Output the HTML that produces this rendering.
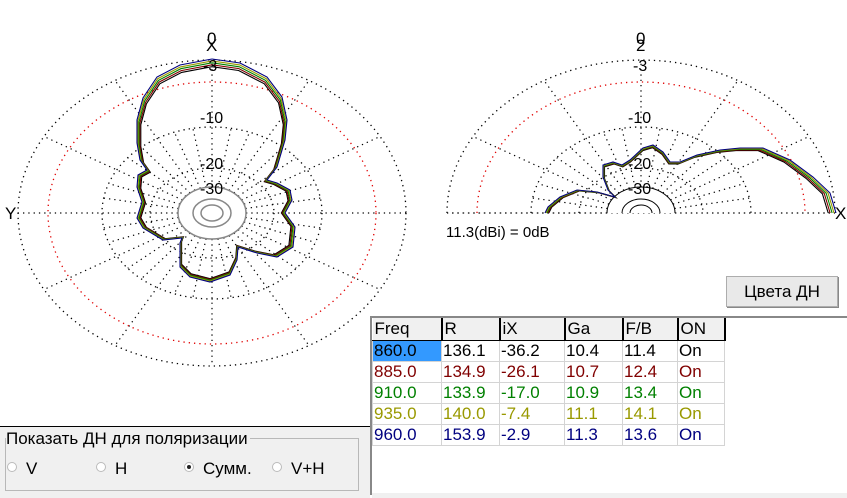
<!DOCTYPE html>
<html><head><meta charset="utf-8"><style>
html,body{margin:0;padding:0;width:847px;height:498px;overflow:hidden;background:#fff;font-family:"Liberation Sans",sans-serif}
#wrap{position:relative;width:847px;height:498px}
svg{position:absolute;left:0;top:0}
.t{position:absolute;font-size:16px;white-space:nowrap;line-height:1}
table{border-collapse:collapse;font-size:17px}
td{border:1px solid #d4d4d4;padding:0 0 0 1px;height:20px;line-height:20px;overflow:hidden}
th{font-weight:normal;text-align:left;height:20px;padding:0 0 0 2px;background:#f0f0f0;border-right:2px solid #000;border-bottom:1px solid #000;line-height:22px}
.r{display:inline-block;width:8px;height:8px;border:1px solid #bbb;border-radius:50%;background:#fff;margin-right:9px;vertical-align:2px;position:relative}
.r.on:after{content:"";position:absolute;left:2px;top:2px;width:4px;height:4px;border-radius:50%;background:#222}
</style></head><body><div id="wrap">
<svg id="s" width="847" height="498" xmlns="http://www.w3.org/2000/svg"></svg>

<div class="t" style="left:207px;top:30px;font-size:17px">0</div>
<div class="t" style="left:206px;top:37px;font-size:17px">X</div>
<div class="t" style="left:203px;top:59px">-3</div>
<div class="t" style="left:200px;top:111px">-10</div>
<div class="t" style="left:200px;top:157px">-20</div>
<div class="t" style="left:200px;top:182px">-30</div>
<div class="t" style="left:5px;top:205px;font-size:17px">Y</div>

<div class="t" style="left:636px;top:30px;font-size:17px">0</div>
<div class="t" style="left:636px;top:37px;font-size:17px">2</div>
<div class="t" style="left:633px;top:59px">-3</div>
<div class="t" style="left:628px;top:111px">-10</div>
<div class="t" style="left:628px;top:157px">-20</div>
<div class="t" style="left:628px;top:182px">-30</div>
<div class="t" style="left:835px;top:205px;font-size:17px">X</div>
<div class="t" style="left:446px;top:225px;font-size:15px">11.3(dBi) = 0dB</div>

<div style="position:absolute;left:726px;top:276px;width:110px;height:29px;background:#e9e9e9;border:1px solid #adadad;box-shadow:1px 1px 0 #888;font-size:17px;text-align:center;line-height:29px">Цвета ДН</div>

<div style="position:absolute;left:370px;top:316px;width:477px;height:177px;border-top:2px solid #888;border-left:2px solid #888;background:#fff">
<table>
<tr><th style="width:66px">Freq</th><th style="width:54px">R</th><th style="width:61px">iX</th><th style="width:54px">Ga</th><th style="width:51px">F/B</th><th style="width:43px">ON</th></tr>
<tr style="color:#000"><td style="background:#3399ff">860.0</td><td>136.1</td><td>-36.2</td><td>10.4</td><td>11.4</td><td>On</td></tr>
<tr style="color:#800000"><td>885.0</td><td>134.9</td><td>-26.1</td><td>10.7</td><td>12.4</td><td>On</td></tr>
<tr style="color:#008000"><td>910.0</td><td>133.9</td><td>-17.0</td><td>10.9</td><td>13.4</td><td>On</td></tr>
<tr style="color:#999900"><td>935.0</td><td>140.0</td><td>-7.4</td><td>11.1</td><td>14.1</td><td>On</td></tr>
<tr style="color:#000080"><td>960.0</td><td>153.9</td><td>-2.9</td><td>11.3</td><td>13.6</td><td>On</td></tr>
</table></div>
<div style="position:absolute;left:372px;top:493px;width:475px;height:5px;background:#f0f0f0"></div>

<div style="position:absolute;left:0;top:426px;width:370px;height:1px;background:#000"></div>
<div style="position:absolute;left:0;top:427px;width:370px;height:71px;background:#f0f0f0"></div>
<div style="position:absolute;left:5px;top:438px;width:352px;height:51px;border:1px solid #b8b8b8"></div>
<div class="t" style="left:6px;top:430px;background:#f0f0f0;padding-right:2px;font-size:17px">Показать ДН для поляризации</div>
<div class="t" style="left:7px;top:460px;font-size:17px"><span class="r"></span>V</div>
<div class="t" style="left:96px;top:460px;font-size:17px"><span class="r"></span>H</div>
<div class="t" style="left:184px;top:460px;font-size:17px"><span class="r on"></span>Сумм.</div>
<div class="t" style="left:272px;top:460px;font-size:17px"><span class="r"></span>V+H</div>
</div>
<script>
var s=document.getElementById('s'),h='';
function ring(cx,cy,rx,ry,col,half,dash){
 if(half){h+='<path d="M'+(cx-rx)+' '+cy+' A'+rx+' '+ry+' 0 0 1 '+(cx+rx)+' '+cy+'" fill="none" stroke="'+col+'" stroke-width="1.3" stroke-dasharray="'+dash+'"/>';}
 else h+='<ellipse cx="'+cx+'" cy="'+cy+'" rx="'+rx+'" ry="'+ry+'" fill="none" stroke="'+col+'" stroke-width="1.3" stroke-dasharray="'+dash+'"/>';
}
function grid(cx,cy,half){
 var R=[[194,153,'#000'],[164,131,'#e00000'],[110,86,'#000'],[62,45,'#000']];
 for(var a=0;a<360;a+=10){
  if(half&&a>180)break;
  var t=a*Math.PI/180,c=Math.cos(t),sn=Math.sin(t);
  var x1=cx+34*c,y1=cy-26*sn,x2=cx+194*c,y2=cy-153*sn;
  if(a%30!=0){x2=cx+110*c;y2=cy-86*sn;}
  h+='<line x1="'+x1+'" y1="'+y1+'" x2="'+x2+'" y2="'+y2+'" stroke="#000" stroke-width="1.2" stroke-dasharray="1.3 4"/>';
 }
 R.forEach(function(r){ring(cx,cy,r[0],r[1],r[2],half,'1.3 4');});
 if(half){h+='<line x1="'+(cx-194)+'" y1="'+cy+'" x2="'+(cx+194)+'" y2="'+cy+'" stroke="#000" stroke-dasharray="1.3 4"/>';
  h+='<path d="M'+(cx-34)+' '+cy+' A34 26 0 0 1 '+(cx+34)+' '+cy+'" fill="#fff" stroke="#000"/>';
  h+='<path d="M'+(cx-19)+' '+cy+' A19 14 0 0 1 '+(cx+19)+' '+cy+'" fill="none" stroke="#000"/>';
  h+='<path d="M'+(cx-11)+' '+cy+' A11 8 0 0 1 '+(cx+11)+' '+cy+'" fill="none" stroke="#000"/>';
 } else {
  h+='<ellipse cx="'+cx+'" cy="'+cy+'" rx="34" ry="26" fill="#fff" stroke="#888" stroke-width="1.5"/>';
  h+='<ellipse cx="'+cx+'" cy="'+cy+'" rx="19" ry="14" fill="none" stroke="#888" stroke-width="1.5"/>';
  h+='<ellipse cx="'+cx+'" cy="'+cy+'" rx="11" ry="8" fill="none" stroke="#888" stroke-width="1.5"/>';
 }
}
grid(212,213,false);grid(641,213,true);
var L=[[212,59],[180,65],[157,77],[143,98],[137,120],[137,143],[140,160],[147,170],[138,175],[137,187],[142,202],[137,218],[143,228],[163,240],[182,238],[180,243],[180,267],[190,277],[210,282],[230,275],[237,260],[238,247],[257,253],[277,257],[293,247],[295,227],[285,213],[292,200],[290,190],[277,183],[267,180],[277,167],[285,140],[287,120],[282,97],[267,77],[240,63],[212,59]];
var Rt=[[836,213],[830,193],[813,177],[790,160],[763,148],[740,148],[720,150],[697,155],[680,162],[670,162],[663,152],[653,145],[643,148],[630,160],[622,165],[613,162],[603,165],[603,177],[608,190],[615,197],[597,192],[577,190],[560,197],[548,207],[545,213]];
var cols=['#000','#800000','#008000','#999900','#000080'];
function curve(P,cx,cy,k,col){
 var d='';P.forEach(function(p,i){d+=(i?'L':'M')+(cx+(p[0]-cx)*k).toFixed(1)+' '+(cy+(p[1]-cy)*k).toFixed(1);});
 h+='<path d="'+d+'" fill="none" stroke="'+col+'" stroke-width="1.1"/>';
}
for(var i=0;i<5;i++){curve(L,212,213,0.95+0.0125*i,cols[i]);curve(Rt,641,213,0.96+0.01*i,cols[i]);}
s.innerHTML=h;
</script>
</body></html>
